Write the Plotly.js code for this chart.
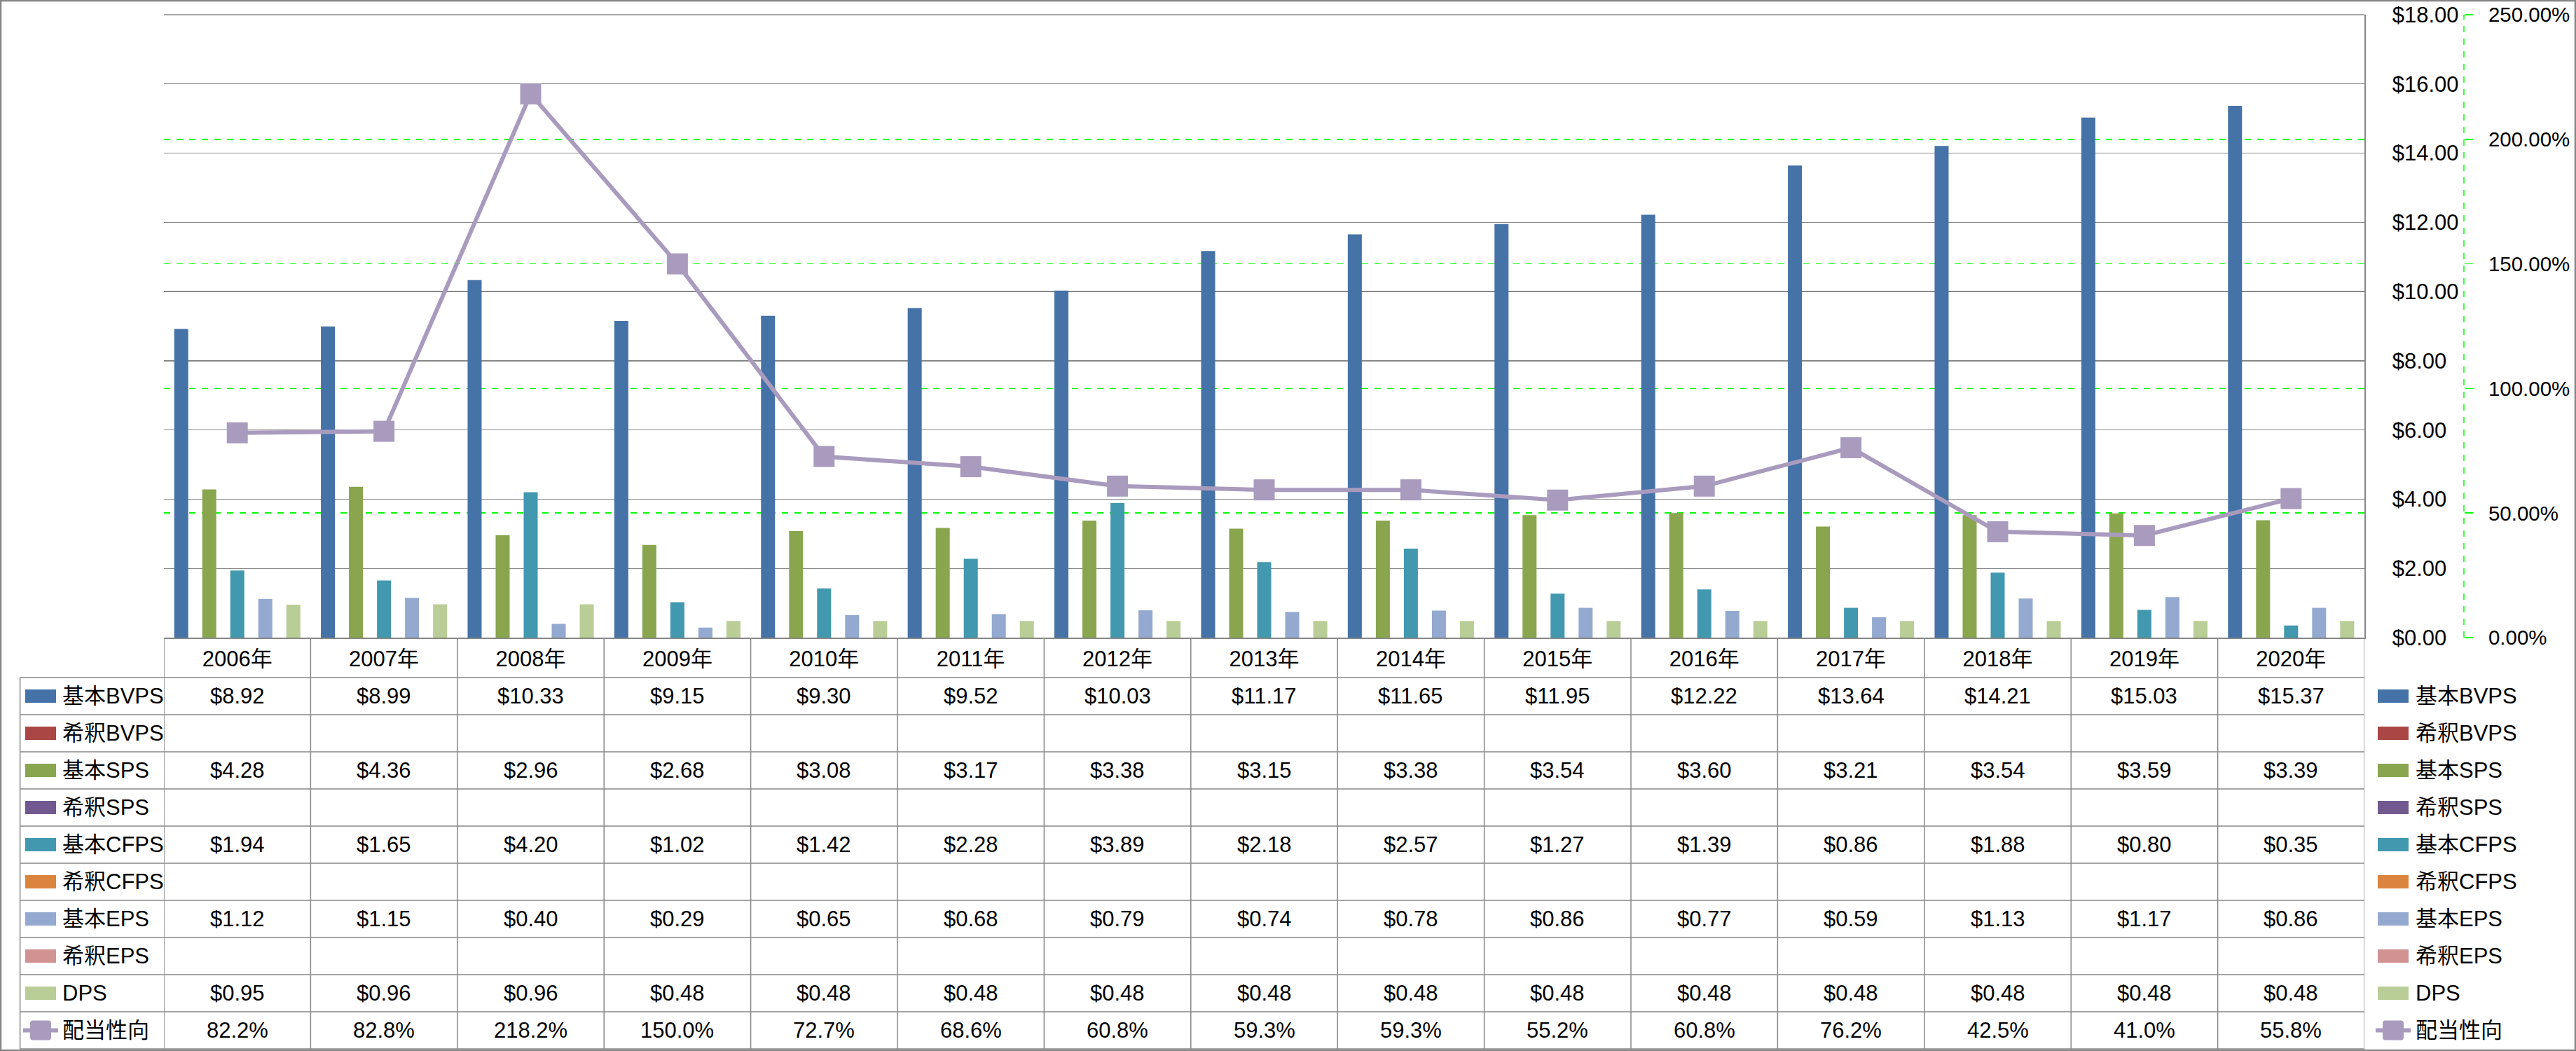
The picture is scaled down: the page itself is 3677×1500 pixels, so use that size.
<!DOCTYPE html>
<html>
<head>
<meta charset="utf-8">
<script src="https://cdn.plot.ly/plotly-3.0.1.min.js"></script>
<style>html,body{margin:0;padding:0;background:#fff;}#chart{width:3677px;height:1500px;}</style>
</head>
<body>
<div id="chart"></div>
<script>
// ---------- data ----------
const years = ['2006年','2007年','2008年','2009年','2010年','2011年','2012年','2013年','2014年','2015年','2016年','2017年','2018年','2019年','2020年'];
const basicBVPS = [8.92, 8.99, 10.33, 9.15, 9.30, 9.52, 10.03, 11.17, 11.65, 11.95, 12.22, 13.64, 14.21, 15.03, 15.37];
const dilutedBVPS = years.map(() => null);
const basicSPS = [4.28, 4.36, 2.96, 2.68, 3.08, 3.17, 3.38, 3.15, 3.38, 3.54, 3.60, 3.21, 3.54, 3.59, 3.39];
const dilutedSPS = years.map(() => null);
const basicCFPS = [1.94, 1.65, 4.20, 1.02, 1.42, 2.28, 3.89, 2.18, 2.57, 1.27, 1.39, 0.86, 1.88, 0.80, 0.35];
const dilutedCFPS = years.map(() => null);
const basicEPS = [1.12, 1.15, 0.40, 0.29, 0.65, 0.68, 0.79, 0.74, 0.78, 0.86, 0.77, 0.59, 1.13, 1.17, 0.86];
const dilutedEPS = years.map(() => null);
const DPS = [0.95, 0.96, 0.96, 0.48, 0.48, 0.48, 0.48, 0.48, 0.48, 0.48, 0.48, 0.48, 0.48, 0.48, 0.48];
const payoutRatio = [82.2, 82.8, 218.2, 150.0, 72.7, 68.6, 60.8, 59.3, 59.3, 55.2, 60.8, 76.2, 42.5, 41.0, 55.8];

const barSeries = [
  {name: '基本BVPS', values: basicBVPS, color: '#4572A7'},
  {name: '希釈BVPS', values: dilutedBVPS, color: '#AA4643'},
  {name: '基本SPS', values: basicSPS, color: '#89A54E'},
  {name: '希釈SPS', values: dilutedSPS, color: '#71588F'},
  {name: '基本CFPS', values: basicCFPS, color: '#4198AF'},
  {name: '希釈CFPS', values: dilutedCFPS, color: '#DB843D'},
  {name: '基本EPS', values: basicEPS, color: '#93A9CF'},
  {name: '希釈EPS', values: dilutedEPS, color: '#D19392'},
  {name: 'DPS', values: DPS, color: '#B9CD96'}
];
const lineSeries = {name: '配当性向', values: payoutRatio, color: '#A99BBE'};

// ---------- geometry helpers ----------
const W = 3677, H = 1500;
const L = 234, R = 3375, T = 21, B = 910;   // plot area (bars)
const PR = 3517;                            // paper right edge = secondary axis position
const PW = PR - L, PH = B - T;
const px = x => (x - L) / PW;
const py = y => (B - y) / PH;
const ROW0 = 967, ROWH = 53, NROWS = 10;
const rowCenter = i => ROW0 + ROWH * i + ROWH / 2;
const XDOM = (R - L) / PW;

const FONT = "'Liberation Sans', Arial, 'Noto Sans CJK JP', sans-serif";
const GRID = '#878787';
const GREEN = '#00FF00';

// ---------- traces ----------
const traces = barSeries.map(s => ({
  type: 'bar', name: s.name, x: years, y: s.values,
  marker: {color: s.color, line: {width: 0}},
  showlegend: false, hoverinfo: 'x+y+name'
}));
traces.push({
  type: 'scatter', mode: 'lines+markers', name: lineSeries.name,
  x: years, y: lineSeries.values, yaxis: 'y2',
  line: {color: lineSeries.color, width: 6},
  marker: {symbol: 'square', size: 30, color: lineSeries.color, line: {width: 0}},
  showlegend: false
});

// ---------- table & legend (shapes + annotations) ----------
const shapes = [];
const annotations = [];
const lineStyle = {color: GRID, width: 1.5};

// top border gridline of the plot area
shapes.push({type: 'line', xref: 'paper', yref: 'paper', x0: 0, x1: XDOM, y0: 1, y1: 1, line: {color: GRID, width: 1.3}, layer: 'below'});

for (let k = 0; k <= years.length; k++) {
  shapes.push({type: 'line', xref: 'x', yref: 'paper', x0: k - 0.5, x1: k - 0.5, y0: py(B), y1: py(ROW0 + ROWH * NROWS), line: lineStyle});
}
shapes.push({type: 'line', xref: 'paper', yref: 'paper', x0: px(28.6), x1: px(28.6), y0: py(ROW0), y1: py(ROW0 + ROWH * NROWS), line: lineStyle});
for (let i = 0; i <= NROWS; i++) {
  shapes.push({type: 'line', xref: 'paper', yref: 'paper', x0: px(28.6), x1: px(R), y0: py(ROW0 + ROWH * i), y1: py(ROW0 + ROWH * i), line: lineStyle});
}

function roundRectPath(x0, y0, x1, y1, r) {
  const P = (x, y) => px(x) + ',' + py(y);
  return 'M' + P(x0 + r, y0) + ' L' + P(x1 - r, y0) + ' Q' + P(x1, y0) + ' ' + P(x1, y0 + r) +
    ' L' + P(x1, y1 - r) + ' Q' + P(x1, y1) + ' ' + P(x1 - r, y1) +
    ' L' + P(x0 + r, y1) + ' Q' + P(x0, y1) + ' ' + P(x0, y1 - r) +
    ' L' + P(x0, y0 + r) + ' Q' + P(x0, y0) + ' ' + P(x0 + r, y0) + ' Z';
}

const rowSeries = barSeries.concat([lineSeries]);
rowSeries.forEach((s, i) => {
  const yc = rowCenter(i);
  const isLine = (s === lineSeries);
  [[36, 80, 87], [3394, 3438, 3446]].forEach(([kx0, kx1, tx]) => {
    if (!isLine) {
      shapes.push({type: 'rect', xref: 'paper', yref: 'paper', x0: px(kx0), x1: px(kx1), y0: py(yc - 9.5), y1: py(yc + 9.5), fillcolor: s.color, line: {width: 0}});
    } else {
      shapes.push({type: 'line', xref: 'paper', yref: 'paper', x0: px(kx0 - 3), x1: px(kx1 + 3), y0: py(yc), y1: py(yc), line: {color: s.color, width: 6}});
      const cx = (kx0 + kx1) / 2;
      shapes.push({type: 'path', xref: 'paper', yref: 'paper', path: roundRectPath(cx - 15, yc - 14, cx + 15, yc + 14, 4), fillcolor: s.color, line: {width: 0}});
    }
    annotations.push({xref: 'paper', yref: 'paper', x: px(tx), y: py(yc), xanchor: 'left', yanchor: 'middle', text: s.name, showarrow: false, font: {family: FONT, size: 31, color: '#000'}});
  });
  s.values.forEach((v, j) => {
    if (v === null || v === undefined) return;
    const txt = isLine ? v.toFixed(1) + '%' : '$' + v.toFixed(2);
    annotations.push({xref: 'x', yref: 'paper', x: j, y: py(yc), xanchor: 'center', yanchor: 'middle', text: txt, showarrow: false, font: {family: FONT, size: 31, color: '#000'}});
  });
});

// dashed secondary axis line
shapes.push({type: 'line', xref: 'paper', yref: 'paper', x0: 1, x1: 1, y0: 0, y1: 1, line: {color: GREEN, width: 1.5, dash: 'dash'}});
// outer chart border
shapes.push({type: 'rect', xref: 'paper', yref: 'paper', x0: px(1), x1: px(W - 1), y0: py(1), y1: py(H - 1), line: {color: '#868686', width: 2.5}, fillcolor: 'rgba(0,0,0,0)'});

const layout = {
  width: W, height: H,
  margin: {l: L, r: W - PR, t: T, b: H - B, pad: 0},
  paper_bgcolor: '#ffffff', plot_bgcolor: '#ffffff',
  font: {family: FONT, size: 31, color: '#000'},
  barmode: 'group', bargap: 0.14, bargroupgap: 0,
  xaxis: {
    type: 'category', range: [-0.5, years.length - 0.5],
    domain: [0, XDOM],
    showgrid: false, zeroline: false,
    showline: true, linecolor: GRID, linewidth: 1.5,
    ticks: '', tickfont: {family: FONT, size: 31, color: '#000'},
    ticklabelstandoff: 2, fixedrange: true
  },
  yaxis: {
    range: [0, 18], dtick: 2, tick0: 0, side: 'right', anchor: 'x',
    tickprefix: '$', tickformat: '.2f',
    showgrid: true, gridcolor: GRID, gridwidth: 1.3,
    zeroline: false, showline: true, linecolor: GRID, linewidth: 1.5,
    ticks: '', ticklabelstandoff: 32,
    tickfont: {family: FONT, size: 31, color: '#000'}
  },
  yaxis2: {
    overlaying: 'y', anchor: 'free', position: 1, side: 'right',
    range: [0, 250], dtick: 50, tick0: 0,
    tickformat: '.2f', ticksuffix: '%',
    showgrid: true, gridcolor: GREEN, gridwidth: 1.5, griddash: 'dash',
    zeroline: false, showline: false,
    ticks: 'outside', ticklen: 12, tickcolor: GREEN, tickwidth: 1.5,
    ticklabelstandoff: 16,
    tickfont: {family: FONT, size: 29.5, color: '#000'}
  },
  shapes: shapes,
  annotations: annotations,
  showlegend: false
};

Plotly.newPlot('chart', traces, layout, {displayModeBar: false, staticPlot: true});
</script>
</body>
</html>
